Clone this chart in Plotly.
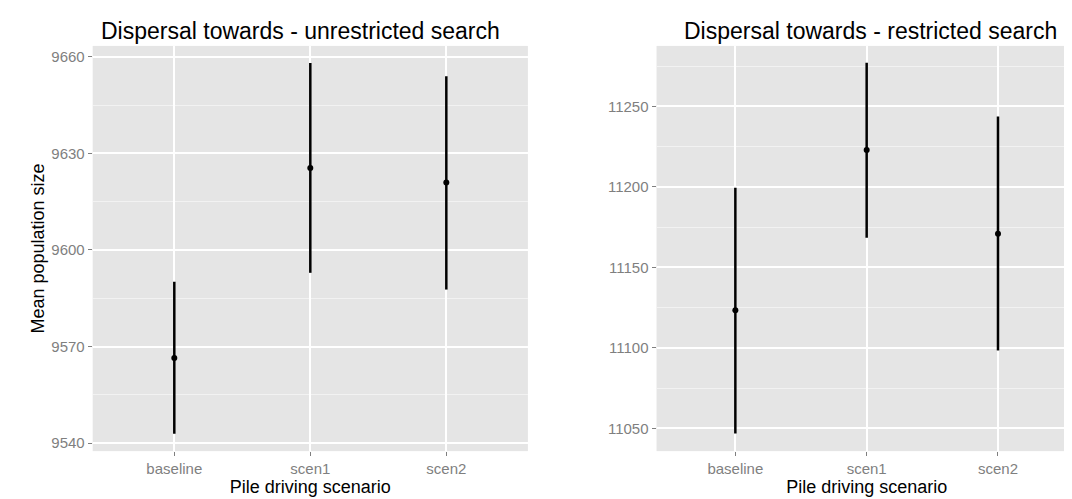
import plotly.graph_objects as go
from plotly.subplots import make_subplots

scenarios = ["baseline", "scen1", "scen2"]

unres_mean = [9566.4, 9625.5, 9621.0]
unres_low = [9542.9, 9592.9, 9587.7]
unres_high = [9590.1, 9658.1, 9654.0]

res_mean = [11123.3, 11222.9, 11170.9]
res_low = [11046.9, 11168.4, 11098.4]
res_high = [11199.5, 11277.1, 11243.6]

fig = make_subplots(rows=1, cols=2)


def add_panel(mean, low, high, col):
    fig.add_trace(go.Scatter(
        x=scenarios, y=mean, mode="markers",
        marker=dict(color="black", size=6),
        error_y=dict(type="data", symmetric=False,
                     array=[h - m for h, m in zip(high, mean)],
                     arrayminus=[m - l for m, l in zip(mean, low)],
                     width=0, thickness=2.5, color="black"),
        showlegend=False), row=1, col=col)


add_panel(unres_mean, unres_low, unres_high, 1)
add_panel(res_mean, res_low, res_high, 2)

axis_common = dict(showline=False, zeroline=False, gridcolor="white", gridwidth=1.5,
                   ticks="outside", ticklen=4, tickcolor="#7f7f7f", tickwidth=1,
                   tickfont=dict(size=15, color="#7f7f7f"))
minor = dict(showgrid=True, gridcolor="#f2f2f2", gridwidth=0.8)

fig.update_xaxes(**axis_common, range=[-0.6, 2.6],
                 title=dict(text="Pile driving scenario", font=dict(size=18, color="black"), standoff=0))
fig.update_xaxes(domain=[0.079, 0.485], row=1, col=1)
fig.update_xaxes(domain=[0.605, 0.997], row=1, col=2)

fig.update_yaxes(**axis_common, domain=[0.112, 0.924], tickformat="d")
fig.update_yaxes(range=[9537.5, 9663.4], tickvals=[9540, 9570, 9600, 9630, 9660],
                 minor=dict(tickvals=[9555, 9585, 9615, 9645], **minor),
                 title=dict(text="Mean population size", font=dict(size=18, color="black"), standoff=2),
                 row=1, col=1)
fig.update_yaxes(range=[11035.9, 11287.5], tickvals=[11050, 11100, 11150, 11200, 11250],
                 minor=dict(tickvals=[11075, 11125, 11175, 11225, 11275], **minor),
                 row=1, col=2)

fig.add_annotation(text="Dispersal towards - unrestricted search", xref="paper", yref="paper",
                   x=0.273, y=0.924, xanchor="center", yanchor="bottom", showarrow=False,
                   font=dict(size=23, color="black"))
fig.add_annotation(text="Dispersal towards - restricted search", xref="paper", yref="paper",
                   x=0.805, y=0.924, xanchor="center", yanchor="bottom", showarrow=False,
                   font=dict(size=23, color="black"))

fig.update_layout(width=1072, height=499, margin=dict(l=0, r=0, t=0, b=0),
                  plot_bgcolor="#e5e5e5", paper_bgcolor="white",
                  font=dict(family="Liberation Sans, Arial, sans-serif"))

fig.write_html("out.html")
